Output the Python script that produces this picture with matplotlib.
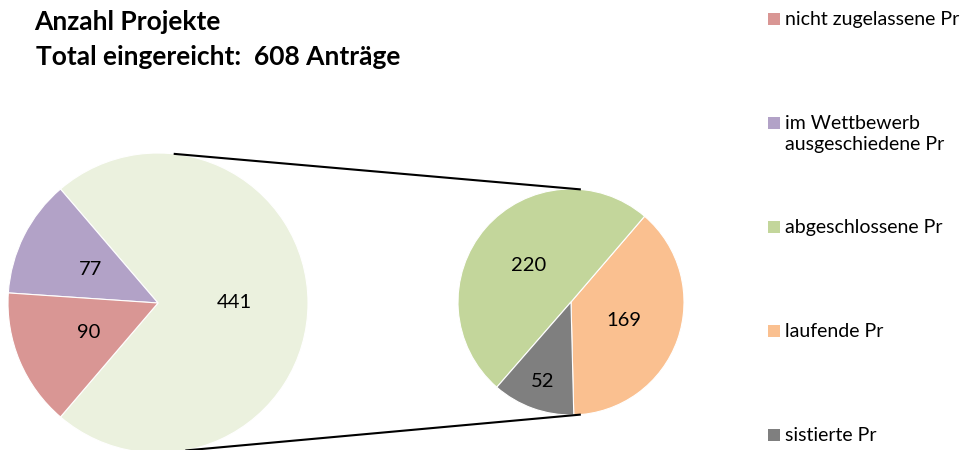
import numpy as np
import matplotlib.pyplot as plt
from matplotlib.patches import Rectangle

plt.rcParams['font.family'] = ['Lato', 'DejaVu Sans']

# Data ----------------------------------------------------------------
main_labels = ["abgeschlossen (gesamt)", "im Wettbewerb ausgeschiedene Pr", "nicht zugelassene Pr"]
main_values = [441, 77, 90]
main_colors = ["#EBF1DE", "#B2A2C7", "#D99694"]

sub_labels = ["laufende Pr", "abgeschlossene Pr", "sistierte Pr"]
sub_values = [169, 220, 52]
sub_colors = ["#FAC090", "#C3D69B", "#7F7F7F"]

legend_labels = ["nicht zugelassene Pr", "im Wettbewerb\nausgeschiedene Pr",
                 "abgeschlossene Pr", "laufende Pr", "sistierte Pr"]
legend_colors = ["#D99694", "#B2A2C7", "#C3D69B", "#FAC090", "#7F7F7F"]

total = sum(main_values)

# Figure --------------------------------------------------------------
W, H = 964, 450
fig = plt.figure(figsize=(W / 100, H / 100), dpi=100)
ax = fig.add_axes([0, 0, 1, 1])

# main pie: the big slice is centred on the right side
c1, r1 = (158, 147), 150
start1 = -main_values[0] / total * 360 / 2
w1, _ = ax.pie(main_values, colors=main_colors, startangle=start1,
               center=c1, radius=r1, counterclock=True,
               wedgeprops=dict(linewidth=0.8, edgecolor='white'), frame=True)

# second pie
c2, r2 = (571, 148), 113
start2 = -88.6
w2, _ = ax.pie(sub_values, colors=sub_colors, startangle=start2,
               center=c2, radius=r2, counterclock=True,
               wedgeprops=dict(linewidth=0.8, edgecolor='white'), frame=True)
ax.set_xlim(0, W)
ax.set_ylim(0, H)
ax.set_aspect('equal')
ax.axis('off')


def put_labels(wedges, values, center, radius, dists):
    for w, v, d in zip(wedges, values, dists):
        a = np.deg2rad((w.theta1 + w.theta2) / 2)
        ax.text(center[0] + d * radius * np.cos(a), center[1] + d * radius * np.sin(a),
                str(v), ha='center', va='center', fontsize=14.5, color='black')


put_labels(w1, main_values, c1, r1, [0.51, 0.5, 0.5])
put_labels(w2, sub_values, c2, r2, [0.5, 0.5, 0.75])

# connector lines
def on_circle(c, r, ang):
    a = np.deg2rad(ang)
    return c[0] + r * np.cos(a), c[1] + r * np.sin(a)

p1 = on_circle(c1, r1, 84)
p2 = on_circle(c2, r2, 85)
p3 = on_circle(c1, r1, -79.5)
p4 = on_circle(c2, r2, -85)
ax.plot([p1[0], p2[0]], [p1[1], p2[1]], color='black', lw=1.5, solid_capstyle='butt')
ax.plot([p3[0], p4[0]], [p3[1], p4[1]], color='black', lw=1.5, solid_capstyle='butt')

# title
ax.text(34, 428, "Anzahl Projekte", fontsize=19, fontweight='bold', va='center', ha='left')
ax.text(36, 393, "Total eingereicht:  %d Anträge" % total, fontsize=19,
        fontweight='bold', va='center', ha='left')

# legend
ys = np.linspace(431, 15, len(legend_labels))
for lab, col, y in zip(legend_labels, legend_colors, ys):
    ax.add_patch(Rectangle((768, y - 6), 12, 12, facecolor=col, edgecolor='none'))
    ax.text(785, y + 8, lab, fontsize=14, va='top', ha='left', linespacing=1.3)

fig.savefig("out.png", dpi=100)
